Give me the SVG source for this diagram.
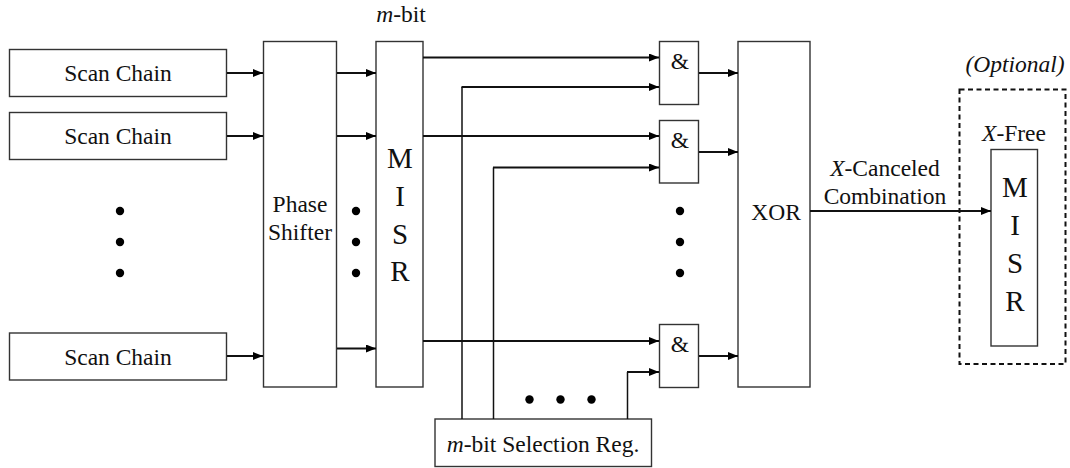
<svg xmlns="http://www.w3.org/2000/svg" width="1070" height="468" viewBox="0 0 1070 468">
<style>
.box{fill:#fff;stroke:#333;stroke-width:1.4}
.dash{fill:none;stroke:#111;stroke-width:2;stroke-dasharray:5,3.5}
.w{fill:none;stroke:#111;stroke-width:2}
.l{fill:none;stroke:#111;stroke-width:1.5}
.dot{fill:#000}
</style>
<defs>
<marker id="ah" markerWidth="10" markerHeight="8" refX="10" refY="4" orient="auto" markerUnits="userSpaceOnUse">
<path d="M0,0 L10,4 L0,8 Z" fill="#000"/>
</marker>
</defs>
<rect width="1070" height="468" fill="#fff"/>

<g font-family="Liberation Serif, serif" font-size="23.5" fill="#111" text-anchor="middle">
<g id="sc1"><rect class="box" x="9.5" y="49.5" width="217" height="47"/><text x="118" y="81">Scan Chain</text></g>
<g id="sc2"><rect class="box" x="9.5" y="112.5" width="217" height="47"/><text x="118" y="144">Scan Chain</text></g>
<g id="sc3"><rect class="box" x="9.5" y="333" width="217" height="47"/><text x="118" y="364.5">Scan Chain</text></g>
<g id="leftdots"><circle class="dot" cx="120" cy="211" r="4.2"/><circle class="dot" cx="120" cy="242" r="4.2"/><circle class="dot" cx="120" cy="273" r="4.2"/></g>

<g id="ps"><rect class="box" x="263.5" y="41.5" width="73" height="345.5"/><text x="300" y="211.5">Phase</text><text x="300" y="240">Shifter</text></g>
<g id="middots"><circle class="dot" cx="356" cy="211" r="4.2"/><circle class="dot" cx="356" cy="242" r="4.2"/><circle class="dot" cx="356" cy="273" r="4.2"/></g>

<g id="misr"><text x="401" y="22"><tspan font-style="italic">m</tspan>-bit</text><rect class="box" x="376" y="41.5" width="47" height="345.5"/>
<g font-size="29"><text x="400" y="168">M</text><text x="400" y="206">I</text><text x="400" y="243.5">S</text><text x="400" y="281">R</text></g></g>

<g id="g1"><rect class="box" x="659.5" y="41.5" width="39" height="63"/><text x="680" y="69">&amp;</text></g>
<g id="g2"><rect class="box" x="659.5" y="120.5" width="39" height="62.5"/><text x="680" y="148">&amp;</text></g>
<g id="g3"><rect class="box" x="659.5" y="324.5" width="39" height="63"/><text x="680" y="352">&amp;</text></g>
<g id="gatedots"><circle class="dot" cx="680" cy="211" r="4.2"/><circle class="dot" cx="680" cy="242" r="4.2"/><circle class="dot" cx="680" cy="273" r="4.2"/></g>

<g id="xor"><rect class="box" x="738" y="41.5" width="72" height="345.5"/><text x="776" y="220">XOR</text></g>

<g id="sel"><rect class="box" x="435" y="419" width="216.5" height="47.5"/><text x="543" y="451.5"><tspan font-style="italic">m</tspan>-bit Selection Reg.</text></g>
<g id="seldots"><circle class="dot" cx="529.5" cy="399.5" r="4.2"/><circle class="dot" cx="560.5" cy="399.5" r="4.2"/><circle class="dot" cx="591.5" cy="399.5" r="4.2"/></g>

<g id="opt"><text x="1015" y="72" font-style="italic">(Optional)</text><rect class="dash" x="959.5" y="89.5" width="106" height="274.5"/>
<text x="1014" y="141"><tspan font-style="italic">X</tspan>-Free</text></g>
<g id="misr2"><rect class="box" x="991" y="149.5" width="46.5" height="196.5"/>
<g font-size="29"><text x="1015" y="196.5">M</text><text x="1015" y="235">I</text><text x="1015" y="273">S</text><text x="1015" y="310.5">R</text></g></g>

<g id="connectors">
<path class="w" d="M227,73 H263" marker-end="url(#ah)"/>
<path class="w" d="M227,136 H263" marker-end="url(#ah)"/>
<path class="w" d="M227,356 H263" marker-end="url(#ah)"/>
<path class="w" d="M337,73 H376" marker-end="url(#ah)"/>
<path class="w" d="M337,136 H376" marker-end="url(#ah)"/>
<path class="w" d="M337,348.5 H376" marker-end="url(#ah)"/>
<path class="w" d="M423,57.5 H659" marker-end="url(#ah)"/>
<path class="w" d="M423,136 H659" marker-end="url(#ah)"/>
<path class="w" d="M423,341 H659" marker-end="url(#ah)"/>
<path class="l" d="M462,419 V87"/><path class="w" d="M461.5,87 H659" marker-end="url(#ah)"/>
<path class="l" d="M493.5,419 V167.5"/><path class="w" d="M493,167.5 H659" marker-end="url(#ah)"/>
<path class="l" d="M627.5,419 V372"/><path class="w" d="M627,372 H659" marker-end="url(#ah)"/>
<path class="w" d="M699,73 H738" marker-end="url(#ah)"/>
<path class="w" d="M699,152 H738" marker-end="url(#ah)"/>
<path class="w" d="M699,356 H738" marker-end="url(#ah)"/>
<path class="w" d="M810,211 H991" marker-end="url(#ah)"/>
<text x="885" y="176"><tspan font-style="italic">X</tspan>-Canceled</text>
<text x="885" y="203.5">Combination</text>
</g>
</g>
</svg>
